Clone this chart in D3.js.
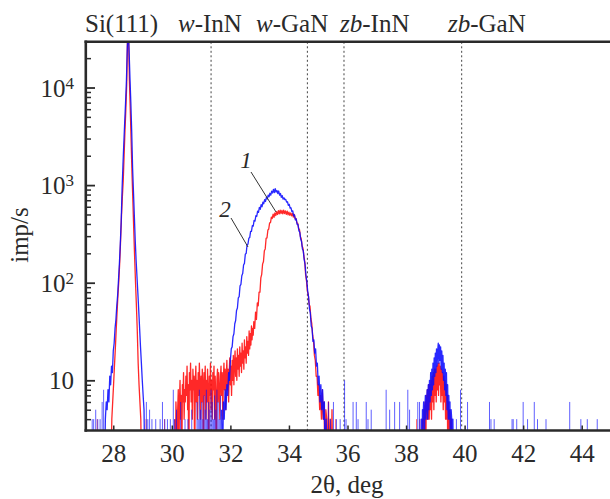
<!DOCTYPE html>
<html><head><meta charset="utf-8">
<script src="https://cdn.jsdelivr.net/npm/d3@7"></script>
<style>
body{margin:0;background:#fff}
text{font-family:"Liberation Serif","Times New Roman",serif;fill:#2a2a2a}
</style>
</head><body><svg id="c" width="610" height="499"></svg>
<script>
// ---------- data: [2theta (deg), intensity (imp/s)]; 0 = no counts ----------
const blueSi = [[27.70,0],[27.73,4],[27.76,6],[27.79,5],[27.82,8],[27.85,6],[27.88,11],[27.91,9],[27.94,14],[27.97,12],
[28.00,20],[28.03,24],[28.06,34],[28.09,42],[28.12,58],[28.15,75],[28.18,110],[28.21,160],[28.24,250],[28.27,420],
[28.30,900],[28.33,1600],[28.36,2700],[28.39,4400],[28.42,7000],[28.45,12000],[28.48,26000],[28.51,42000],[28.54,24000],[28.57,12500],
[28.60,7000],[28.63,3500],[28.66,1500],[28.69,850],[28.72,480],[28.75,270],[28.78,170],[28.81,115],[28.84,78],[28.87,52],
[28.90,34],[28.93,22],[28.96,15],[28.99,10],[29.02,7],[29.05,5],[29.08,0]];

const redSi = [[27.92,0],[27.95,4],[27.98,6],[28.01,9],[28.04,14],[28.07,21],[28.10,33],[28.13,50],[28.16,75],[28.19,105],
[28.22,160],[28.25,270],[28.28,480],[28.31,750],[28.34,1100],[28.37,2000],[28.40,3600],[28.43,6000],[28.46,11000],[28.49,40000],
[28.52,36000],[28.55,12000],[28.58,6000],[28.61,2800],[28.64,1300],[28.67,680],[28.70,340],[28.73,180],[28.76,100],[28.79,58],
[28.82,32],[28.85,15],[28.88,9],[28.91,6],[28.94,4],[28.97,0]];

const blueMain = [[31.70,5],[31.73,0],[31.76,6],[31.79,4],[31.82,8],[31.85,5],[31.88,9],[31.91,7],[31.94,12],[31.97,10],
[32.00,16],[32.03,21],[32.06,22],[32.09,28],[32.12,30],[32.15,38],[32.18,41],[32.21,52],[32.24,55],[32.27,70],
[32.30,72],[32.33,93],[32.36,96],[32.39,118],[32.42,124],[32.45,152],[32.48,158],[32.51,196],[32.54,200],[32.57,245],
[32.60,248],[32.63,285],[32.66,290],[32.69,335],[32.72,335],[32.75,385],[32.78,380],[32.81,435],[32.84,428],[32.87,485],
[32.90,478],[32.93,540],[32.96,525],[32.99,590],[33.02,565],[33.05,630],[33.08,600],[33.11,670],[33.14,645],[33.17,710],
[33.20,680],[33.23,750],[33.26,720],[33.29,790],[33.32,760],[33.35,825],[33.38,790],[33.41,865],[33.44,830],[33.47,905],
[33.50,840],[33.53,920],[33.56,850],[33.59,880],[33.62,820],[33.65,870],[33.68,790],[33.71,820],[33.74,750],[33.77,780],
[33.80,720],[33.83,740],[33.86,710],[33.89,715],[33.92,670],[33.95,675],[33.98,620],[34.01,635],[34.04,580],[34.07,585],
[34.10,535],[34.13,545],[34.16,485],[34.19,495],[34.22,440],[34.25,450],[34.28,395],[34.31,395],[34.34,340],[34.37,330],
[34.40,280],[34.43,265],[34.46,222],[34.49,212],[34.52,172],[34.55,155],[34.58,120],[34.61,104],[34.64,82],[34.67,72],
[34.70,54],[34.73,49],[34.76,36],[34.79,34],[34.82,25],[34.85,26],[34.88,19],[34.91,21],[34.94,14],[34.97,15],
[35.00,9],[35.03,11],[35.06,6],[35.09,9],[35.12,5],[35.15,8],[35.18,4],[35.21,6],[35.24,0],[35.27,4],[35.30,0]];

const redMain = [[30.10,4],[30.12,0],[30.14,6],[30.16,4],[30.18,0],[30.20,5],[30.22,8],[30.24,0],[30.26,6],[30.28,10],
[30.30,4],[30.32,7],[30.34,0],[30.36,9],[30.38,6],[30.40,12],[30.42,4],[30.44,8],[30.46,6],[30.48,11],
[30.50,7],[30.52,14],[30.54,5],[30.56,9],[30.58,0],[30.60,12],[30.62,8],[30.64,15],[30.66,6],[30.68,10],
[30.70,4],[30.72,13],[30.74,8],[30.76,11],[30.78,0],[30.80,9],[30.82,14],[30.84,6],[30.86,10],[30.88,4],
[30.90,12],[30.92,7],[30.94,15],[30.96,9],[30.98,4],[31.00,11],[31.02,6],[31.04,13],[31.06,9],[31.08,0],
[31.10,12],[31.12,7],[31.14,14],[31.16,4],[31.18,10],[31.20,6],[31.22,13],[31.24,8],[31.26,0],[31.28,11],
[31.30,7],[31.32,15],[31.34,5],[31.36,10],[31.38,4],[31.40,12],[31.42,8],[31.44,14],[31.46,4],[31.48,11],
[31.50,7],[31.52,0],[31.54,10],[31.56,13],[31.58,6],[31.60,12],[31.62,8],[31.64,4],[31.66,11],[31.68,14],
[31.70,7],[31.72,12],[31.74,4],[31.76,10],[31.78,15],[31.80,8],[31.82,13],[31.84,5],[31.86,11],[31.88,16],
[31.90,8],[31.92,13],[31.94,6],[31.96,12],[31.98,17],[32.00,9],[32.02,14],[32.04,7],[32.06,16],[32.08,10],
[32.10,18],[32.12,9],[32.14,15],[32.16,20],[32.18,11],[32.20,17],[32.22,10],[32.24,21],[32.26,13],[32.28,18],
[32.30,11],[32.32,22],[32.34,14],[32.36,19],[32.38,12],[32.40,24],[32.42,15],[32.44,20],[32.46,13],[32.48,26],
[32.50,17],[32.52,22],[32.54,15],[32.56,28],[32.58,19],[32.60,25],[32.62,18],[32.64,32],[32.66,21],[32.68,30],
[32.70,23],[32.72,36],[32.74,26],[32.76,34],[32.78,29],[32.80,40],[32.83,34],[32.86,50],[32.89,42],[32.92,62],
[32.95,58],[32.98,80],[33.01,80],[33.04,112],[33.07,122],[33.10,155],[33.13,165],[33.16,212],[33.19,222],[33.22,285],
[33.25,288],[33.28,345],[33.31,355],[33.34,410],[33.37,412],[33.40,470],[33.43,455],[33.46,505],[33.49,468],[33.52,520],
[33.55,488],[33.58,535],[33.61,500],[33.64,548],[33.67,508],[33.70,555],[33.73,512],[33.76,550],[33.79,508],[33.82,555],
[33.85,512],[33.88,545],[33.91,502],[33.94,540],[33.97,495],[34.00,528],[34.03,490],[34.06,518],[34.09,485],[34.12,512],
[34.15,470],[34.18,500],[34.21,455],[34.24,455],[34.27,410],[34.30,405],[34.33,360],[34.36,350],[34.39,298],[34.42,282],
[34.45,238],[34.48,226],[34.51,188],[34.54,165],[34.57,120],[34.60,104],[34.63,82],[34.66,75],[34.69,60],[34.72,57],
[34.75,43],[34.78,38],[34.81,29],[34.84,25],[34.87,18],[34.90,16],[34.93,11],[34.96,11],[34.99,7],[35.02,9],
[35.05,5],[35.08,7],[35.11,4],[35.14,8],[35.17,4],[35.20,6],[35.23,0],[35.26,5],[35.29,4],[35.32,0],
[35.35,6],[35.38,0],[35.41,4],[35.44,0],[35.47,5],[35.50,0]];

const blue39 = [[38.50,0],[38.52,4],[38.54,0],[38.56,5],[38.58,4],[38.60,6],[38.62,0],[38.64,5],[38.66,7],[38.68,4],
[38.70,6],[38.72,8],[38.74,4],[38.76,9],[38.78,5],[38.80,10],[38.82,6],[38.84,12],[38.86,7],[38.88,13],
[38.90,8],[38.92,15],[38.94,9],[38.96,17],[38.98,11],[39.00,19],[39.02,12],[39.04,21],[39.06,14],[39.08,20],
[39.10,24],[39.12,15],[39.14,23],[39.16,16],[39.18,22],[39.20,13],[39.22,20],[39.24,12],[39.26,18],[39.28,10],
[39.30,15],[39.32,8],[39.34,13],[39.36,7],[39.38,12],[39.40,5],[39.42,9],[39.44,4],[39.46,7],[39.48,4],
[39.50,6],[39.52,0],[39.54,5],[39.56,4],[39.58,0],[39.60,4],[39.62,0]];

const red39 = [[38.55,0],[38.57,4],[38.59,0],[38.61,5],[38.63,4],[38.65,6],[38.67,0],[38.69,7],[38.71,4],[38.73,8],
[38.75,4],[38.77,9],[38.79,4],[38.81,9],[38.83,5],[38.85,10],[38.87,4],[38.89,11],[38.91,6],[38.93,12],
[38.95,5],[38.97,13],[38.99,7],[39.01,13],[39.03,6],[39.05,14],[39.07,8],[39.09,15],[39.11,7],[39.13,15],
[39.15,9],[39.17,14],[39.19,6],[39.21,13],[39.23,7],[39.25,12],[39.27,5],[39.29,11],[39.31,6],[39.33,10],
[39.35,4],[39.37,9],[39.39,4],[39.41,7],[39.43,0],[39.45,6],[39.47,0],[39.49,5],[39.51,4],[39.53,0],[39.55,4],[39.57,0]];

// isolated background counts (single-channel spikes)
const blueSpikes = [[27.28,4],[27.33,4],[27.40,5],[27.47,4],[27.55,4],[27.62,6],[27.67,8],
[29.13,6],[29.18,4],[29.24,5],[29.32,4],[29.45,4],[29.60,4],[29.68,6],[29.76,4],[29.85,4],[29.95,4],[30.05,8],[30.10,4],[30.16,5],
[30.30,6],[30.45,4],[30.55,4],[30.68,5],[30.86,6],[30.90,4],[30.94,8],[30.98,5],[31.02,6],[31.06,4],[31.10,7],[31.14,5],[31.18,8],
[31.22,4],[31.26,6],[31.30,5],[31.34,8],[31.38,6],[31.42,4],[31.46,7],[31.50,5],[31.54,8],[31.58,6],[31.62,4],[31.66,7],
[35.35,6],[35.42,4],[35.52,6],[35.62,4],[35.75,4],[35.90,10],[35.95,4],[36.19,6],[36.30,6],[36.36,4],[36.64,6],[36.70,4],[36.81,5],
[37.32,8],[37.44,5],[37.61,6],[37.78,6],[38.06,8],[38.12,5],[38.40,6],[38.46,6],
[39.72,4],[39.86,8],[40.10,6],[40.85,6],[40.90,4],[41.01,4],[41.62,4],[41.66,4],[41.78,4],[42.00,6],[42.15,4],[42.38,6],
[42.49,4],[42.78,4],[43.59,6],[43.97,4],[44.19,4],[44.53,4]];
const redSpikes = [[27.45,4],[29.12,4],[29.75,4],[35.60,4],[38.36,4],[38.47,4]];

// reference lines
const refLines = [31.34, 34.63, 35.88, 39.90];
const xMajorTicks = [28, 30, 32, 34, 36, 38, 40, 42, 44];
const yMajorTicks = [10, 100, 1000, 10000];
const yMajorExp = ["", "2", "3", "4"];

// ---------- chart ----------
const svg = d3.select("#c");
const x = d3.scaleLinear().domain([27, 45]).range([84.0, 611.0]);
const y = d3.scaleLog().domain([3.06, 29400]).range([430.5, 41.8]);
const yv = v => v > 0 ? y(v) : y(1);

svg.append("defs").append("clipPath").attr("id","clip")
  .append("rect").attr("x",86).attr("y",41.8).attr("width",530).attr("height",388.7);

const plot = svg.append("g").attr("clip-path","url(#clip)");

plot.selectAll("line.ref").data(refLines).join("line")
  .attr("x1",d=>x(d)).attr("x2",d=>x(d)).attr("y1",41.8).attr("y2",430.5)
  .attr("stroke","#444").attr("stroke-width",1).attr("stroke-dasharray","2,2.5");

const line = d3.line().x(d=>x(d[0])).y(d=>yv(d[1]));

function drawSeries(segs, spikes, color){
  const g = plot.append("g");
  g.selectAll("path.sp").data(spikes).join("path")
    .attr("d", d => line([[d[0],0],[d[0],d[1]]]))
    .attr("fill","none").attr("stroke",color).attr("stroke-width",1).attr("stroke-opacity",0.65);
  g.selectAll("path.seg").data(segs).join("path")
    .attr("d", d => line(d))
    .attr("fill","none").attr("stroke",color).attr("stroke-width",1.3)
    .attr("stroke-linejoin","round").attr("stroke-opacity",0.88);
}
drawSeries([redSi, redMain, red39], redSpikes, "#ff0a0a");
drawSeries([blueSi, blueMain, blue39], blueSpikes, "#0a0aff");

const axCol = "#2a2a2a";
const xMinor = d3.range(0, 27).map(i => 27 + (i+1) * 2/3).filter(v => v < 45);
const gx = svg.append("g").attr("transform","translate(0,430.5)");
gx.call(d3.axisBottom(x).tickValues(xMinor).tickSize(-5).tickFormat(""));
gx.call(d3.axisBottom(x).tickValues(xMajorTicks).tickSize(-5).tickPadding(14).tickFormat(d3.format("d")));
gx.selectAll("path.domain").remove();
gx.selectAll("line").attr("stroke",axCol).attr("stroke-width",1.5);
gx.selectAll("text").style("font-size","25px").attr("fill","#2a2a2a");

const yMinor = [];
[1,10,100,1000,10000].forEach(dec => [2,3,4,5,6,7,8,9].forEach(m => { const v = dec*m; if (v >= 3.06 && v <= 29400 && yMajorTicks.indexOf(v) < 0) yMinor.push(v); }));
const gy = svg.append("g").attr("transform","translate(86,0)");
gy.call(d3.axisLeft(y).tickValues(yMinor).tickSize(-5).tickFormat(""));
const gyM = svg.append("g").attr("transform","translate(86,0)");
gyM.call(d3.axisLeft(y).tickValues(yMajorTicks).tickSize(-9).tickPadding(12).tickFormat(""));
gy.selectAll(".domain").remove(); gyM.selectAll(".domain").remove();
gy.selectAll("line").attr("stroke",axCol).attr("stroke-width",1.5);
gyM.selectAll("line").attr("stroke",axCol).attr("stroke-width",1.8);
gyM.selectAll(".tick text").each(function(d,i){
  const t = d3.select(this).attr("x",-12).attr("dy","0.34em").style("font-size","25px").attr("fill","#2a2a2a");
  t.append("tspan").text("10");
  if (yMajorExp[i]) t.append("tspan").attr("dy","-0.45em").style("font-size","17px").text(yMajorExp[i]);
});

svg.append("line").attr("x1",84.5).attr("x2",612).attr("y1",430.5).attr("y2",430.5).attr("stroke",axCol).attr("stroke-width",2.6);
svg.append("line").attr("x1",84.5).attr("x2",612).attr("y1",41.8).attr("y2",41.8).attr("stroke",axCol).attr("stroke-width",2.6);
svg.append("line").attr("x1",85.8).attr("x2",85.8).attr("y1",40.5).attr("y2",431.8).attr("stroke",axCol).attr("stroke-width",2.6);

svg.append("text").attr("x",347).attr("y",493).attr("text-anchor","middle").style("font-size","25px").text("2θ, deg");
svg.append("text").attr("transform","translate(28,235) rotate(-90)").attr("text-anchor","middle").style("font-size","25px").text("imp/s");

function phase(xp, it, rest){
  const t = svg.append("text").attr("x",xp).attr("y",32).style("font-size","25px");
  if (it) t.append("tspan").style("font-style","italic").text(it);
  t.append("tspan").text(rest);
}
phase(85, "", "Si(111)");
phase(178, "w", "-InN");
phase(256, "w", "-GaN");
phase(340, "zb", "-InN");
phase(448, "zb", "-GaN");

svg.append("text").attr("x",246).attr("y",168).attr("text-anchor","middle").style("font-size","23px").style("font-style","italic").text("1");
svg.append("line").attr("x1",251).attr("y1",172).attr("x2",276).attr("y2",212).attr("stroke","#333").attr("stroke-width",1);
svg.append("text").attr("x",225).attr("y",217).attr("text-anchor","middle").style("font-size","23px").style("font-style","italic").text("2");
svg.append("line").attr("x1",231).attr("y1",218).attr("x2",248).attr("y2",247).attr("stroke","#333").attr("stroke-width",1);
</script>
</body></html>
